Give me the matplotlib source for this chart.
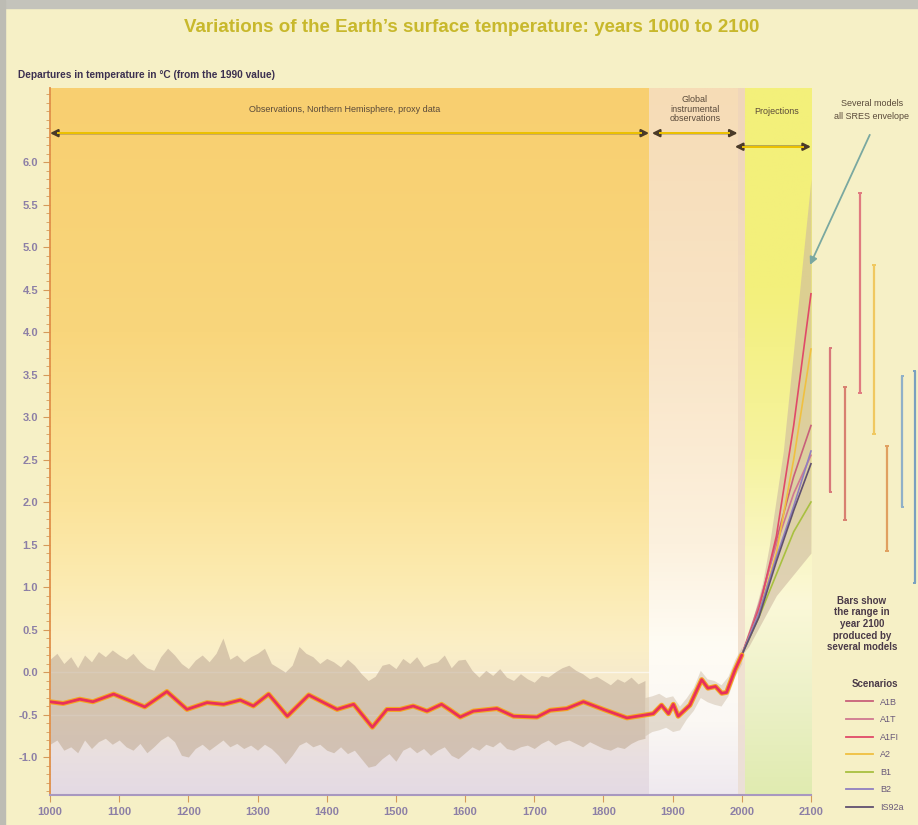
"""Earth's surface temperature 1000-2100: proxy record, instruments and SRES projections."""

import numpy as np
import matplotlib

matplotlib.use("Agg")
import matplotlib.pyplot as plt
from matplotlib.colors import LinearSegmentedColormap
from matplotlib.patches import Rectangle
from matplotlib.lines import Line2D

plt.rcParams["font.family"] = ["Liberation Sans", "DejaVu Sans"]

# ---- data ----------------------------------------------------------------
proxy_years = list(range(1000, 1861, 10))
proxy_upper = [
    0.15, 0.22, 0.10, 0.18, 0.05, 0.20, 0.12, 0.24, 0.18, 0.26,
    0.20, 0.15, 0.22, 0.12, 0.05, 0.02, 0.18, 0.28, 0.20, 0.10,
    0.04, 0.14, 0.20, 0.12, 0.22, 0.40, 0.15, 0.20, 0.12, 0.18,
    0.22, 0.28, 0.10, 0.05, 0.00, 0.08, 0.30, 0.22, 0.18, 0.10,
    0.16, 0.12, 0.06, 0.15, 0.08, -0.02, -0.10, -0.05, 0.08, 0.10,
    0.04, 0.16, 0.10, 0.18, 0.06, 0.10, 0.12, 0.20, 0.05, 0.14,
    0.15, 0.02, -0.06, 0.02, -0.04, 0.04, -0.06, -0.10, -0.02, -0.08,
    -0.12, -0.04, -0.06, 0.00, 0.05, 0.08, 0.02, -0.02, -0.08, -0.05,
    -0.10, -0.15, -0.08, -0.12, -0.06, -0.14, -0.10,
]
proxy_lower = [
    -0.85, -0.80, -0.92, -0.88, -0.95, -0.80, -0.90, -0.82, -0.78, -0.85,
    -0.80, -0.88, -0.92, -0.84, -0.95, -0.88, -0.80, -0.75, -0.82, -0.98,
    -1.00, -0.90, -0.85, -0.92, -0.86, -0.80, -0.88, -0.84, -0.90, -0.86,
    -0.92, -0.85, -0.90, -0.98, -1.08, -0.98, -0.86, -0.82, -0.88, -0.85,
    -0.92, -0.95, -0.88, -0.96, -0.92, -1.02, -1.12, -1.10, -1.02, -0.96,
    -1.05, -0.92, -0.88, -0.95, -0.90, -0.98, -0.92, -0.88, -0.98, -1.02,
    -0.95, -0.88, -0.92, -0.85, -0.88, -0.82, -0.90, -0.92, -0.88, -0.86,
    -0.90, -0.84, -0.80, -0.86, -0.82, -0.80, -0.84, -0.88, -0.82, -0.86,
    -0.90, -0.92, -0.88, -0.90, -0.84, -0.80, -0.78,
]

instr_years = list(range(1860, 2001, 10))
instr_upper = [-0.30, -0.28, -0.25, -0.30, -0.28, -0.40, -0.30, -0.18,
               0.02, -0.08, -0.10, -0.15, -0.05, 0.15, 0.30]
instr_lower = [-0.75, -0.70, -0.68, -0.65, -0.70, -0.68, -0.55, -0.45,
               -0.30, -0.35, -0.38, -0.40, -0.28, -0.05, 0.10]

smooth_years = [1000, 1019, 1043, 1062, 1092, 1137, 1169, 1198, 1227, 1251,
                1275, 1294, 1316, 1343, 1374, 1415, 1439, 1466, 1487, 1506,
                1525, 1545, 1566, 1579, 1593, 1612, 1646, 1670, 1704, 1723,
                1747, 1771, 1800, 1834, 1872, 1884, 1894, 1901, 1908, 1925,
                1942, 1951, 1962, 1971, 1978, 1990, 2000]
smooth_temp = [-0.35, -0.37, -0.32, -0.35, -0.26, -0.41, -0.23, -0.44, -0.36, -0.38,
               -0.33, -0.40, -0.26, -0.52, -0.27, -0.44, -0.38, -0.65, -0.44, -0.44,
               -0.40, -0.46, -0.38, -0.45, -0.53, -0.46, -0.43, -0.52, -0.53, -0.45,
               -0.43, -0.35, -0.44, -0.54, -0.49, -0.39, -0.49, -0.38, -0.52, -0.39,
               -0.09, -0.19, -0.17, -0.25, -0.24, 0.02, 0.20]

env_years = list(range(2000, 2101, 10))
env_upper = [0.20, 0.45, 0.75, 1.05, 1.50, 2.05, 2.60, 3.40, 4.20, 5.00, 5.80]
env_lower = [0.20, 0.30, 0.45, 0.60, 0.75, 0.90, 1.00, 1.10, 1.20, 1.30, 1.40]

scen_years = [2000, 2025, 2050, 2075, 2100]
scenarios = ["A1B", "A1T", "A1FI", "A2", "B1", "B2", "IS92a"]
scen_A1B = [0.20, 0.75, 1.55, 2.30, 2.90]
scen_A1T = [0.20, 0.80, 1.50, 2.10, 2.55]
scen_A1FI = [0.20, 0.75, 1.60, 2.90, 4.45]
scen_A2 = [0.20, 0.70, 1.40, 2.50, 3.80]
scen_B1 = [0.20, 0.65, 1.15, 1.65, 2.00]
scen_B2 = [0.20, 0.70, 1.35, 1.95, 2.60]
scen_IS92a = [0.20, 0.65, 1.30, 1.90, 2.45]
scen_values = [scen_A1B, scen_A1T, scen_A1FI, scen_A2, scen_B1, scen_B2, scen_IS92a]
scen_colors = ["#c8607a", "#d07890", "#e04a68", "#f0c040", "#a8c040", "#9080c0", "#605070"]

# range bars for year 2100 (low, high)
bar_low = [2.12, 1.79, 3.28, 2.80, 1.42, 1.94, 1.05]
bar_high = [3.81, 3.35, 5.63, 4.79, 2.66, 3.48, 3.54]
bar_colors = ["#d8787a", "#d88070", "#e07a80", "#f0c860", "#e0a060", "#90b0c8", "#7aa0c0"]
bar_x = [2128, 2149, 2171, 2191, 2210, 2232, 2250]

YMIN, YMAX = -1.447, 6.871
XMIN, XMAX = 1000, 2254.7


def px(x, y):
    return x / 918, 1 - y / 825


def vgrad(ax, x0, x1, stops):
    pos = [(y - YMIN) / (YMAX - YMIN) for y, _ in stops]
    cmap = LinearSegmentedColormap.from_list("g", list(zip(pos, [c for _, c in stops])))
    grad = np.linspace(0, 1, 256).reshape(-1, 1)
    ax.imshow(grad, cmap=cmap, extent=(x0, x1, YMIN, YMAX), origin="lower",
              aspect="auto", zorder=0, interpolation="bilinear")


fig = plt.figure(figsize=(9.18, 8.25), dpi=100, facecolor="#f6f0c6")
fig.patches.append(Rectangle((0, 1 - 8 / 825), 1, 8 / 825, transform=fig.transFigure,
                             color="#c4c3bb", zorder=-1))
fig.patches.append(Rectangle((0, 0), 5 / 918, 1, transform=fig.transFigure,
                             color="#bdbcb4", zorder=-1))

ax = fig.add_axes([50 / 918, 30 / 825, 868 / 918, 707 / 825])
ax.patch.set_alpha(0)

# background bands
vgrad(ax, 1000, 1866, [(YMIN, "#e4dae4"), (-1.0, "#e9dfe0"), (-0.5, "#f1e5d4"),
                       (0.3, "#fbefc6"), (1.0, "#fcebb2"), (2.0, "#fbe39a"),
                       (4.0, "#f9d67c"), (YMAX, "#f8cf70")])
vgrad(ax, 1866, 1994, [(YMIN, "#efe9ef"), (-0.6, "#fbf8f4"), (0.3, "#fffcf4"),
                       (1.5, "#fcf1de"), (4.0, "#f9e4c6"), (YMAX, "#f6dcb6")])
vgrad(ax, 1994, 2004, [(YMIN, "#ebdfd8"), (1.0, "#f4e2cc"), (YMAX, "#f0d6ba")])
vgrad(ax, 2004, 2100, [(YMIN, "#e0ebb0"), (-0.3, "#ecf1c8"), (0.8, "#fbf8d8"),
                       (2.5, "#f6f3a0"), (4.5, "#f3f07c"), (YMAX, "#f3f07a")])

# faint reference lines
for yv in (0.0, -0.5):
    ax.plot([1000, 1866], [yv, yv], color="white", lw=1.0, alpha=0.6, zorder=1)

# proxy and instrumental spread
ax.fill_between(proxy_years, proxy_lower, proxy_upper,
                color="#c2ad98", alpha=0.6, lw=0, zorder=2)
ax.fill_between(instr_years, instr_lower, instr_upper,
                color="#c9b8a2", alpha=0.45, lw=0, zorder=2)

# smoothed record
ax.plot(smooth_years, smooth_temp, color="#f5a623", lw=3.6, zorder=4,
        solid_joinstyle="round", solid_capstyle="round")
ax.plot(smooth_years, smooth_temp, color="#e8305a", lw=2.0, zorder=5,
        solid_joinstyle="round", solid_capstyle="round")

# projections envelope and scenarios
ax.fill_between(env_years, env_lower, env_upper, color="#cdb9a0", alpha=0.6,
                lw=0, zorder=2)
for name, vals, c in zip(scenarios, scen_values, scen_colors):
    ax.plot(scen_years, vals, color=c, lw=1.2, zorder=3, label=name)

# range bars in 2100
for x, lo, hi, c in zip(bar_x, bar_low, bar_high, bar_colors):
    ax.vlines(x, lo, hi, color=c, lw=1.6, zorder=3, clip_on=False)
    ax.hlines([lo, hi], x - 2.5, x + 2.5, color=c, lw=1.4, zorder=3, clip_on=False)

# period arrows
arrow_kw = dict(arrowstyle="<|-|>", color="#4a3a28", lw=1.6,
                mutation_scale=11, shrinkA=0, shrinkB=0)
for (x0, x1, y) in [(1000, 1866, 6.34), (1870, 1994, 6.34), (1990, 2100, 6.18)]:
    ax.annotate("", xy=(x1, y), xytext=(x0, y), arrowprops=arrow_kw, zorder=6)
    ax.plot([x0 + 12, x1 - 12], [y, y], color="#f0c400", lw=1.4, zorder=7)

ax.annotate("", xy=(2098.6, 4.79), xytext=(2185, 6.32), zorder=6,
            arrowprops=dict(arrowstyle="-|>", color="#7aa8a0", lw=1.3,
                            mutation_scale=11, shrinkA=0, shrinkB=0))

# axes styling
ax.set_xlim(XMIN, XMAX)
ax.set_ylim(YMIN, YMAX)
for s in ("top", "right"):
    ax.spines[s].set_visible(False)
ax.spines["left"].set_color("#e0904a")
ax.spines["left"].set_linewidth(1.3)
ax.spines["bottom"].set_color("#a898c0")
ax.spines["bottom"].set_linewidth(1.5)
ax.spines["bottom"].set_bounds(1000, 2100)

ax.set_xticks(range(1000, 2101, 100))
ax.set_yticks(np.arange(-1.0, 6.01, 0.5))
ax.set_yticks(np.arange(-1.4, 6.81, 0.1), minor=True)
ax.set_yticklabels([f"{v:.1f}" for v in np.arange(-1.0, 6.01, 0.5)])
ax.tick_params(axis="both", which="major", direction="out", length=5,
               color="#d49a5a", labelsize=8, labelcolor="#8c7fa6")
ax.tick_params(axis="y", which="minor", direction="out", length=3, color="#d49a5a")
for lab in ax.get_xticklabels() + ax.get_yticklabels():
    lab.set_fontweight("bold")

# texts
fig.text(*px(472, 27), "Variations of the Earth\u2019s surface temperature: years 1000 to 2100",
         ha="center", va="center", fontsize=13.5, fontweight="bold", color="#c8b82c")
fig.text(*px(18, 75), "Departures in temperature in \u00b0C (from the 1990 value)",
         ha="left", va="center", fontsize=7.3, fontweight="bold", color="#3c3050")
fig.text(*px(345, 110), "Observations, Northern Hemisphere, proxy data",
         ha="center", va="center", fontsize=6.5, color="#5a4a3a")
fig.text(*px(695, 109), "Global\ninstrumental\nobservations",
         ha="center", va="center", fontsize=6.5, color="#5a4a3a", linespacing=1.05)
fig.text(*px(777, 111), "Projections",
         ha="center", va="center", fontsize=6.5, color="#5a4a3a")
fig.text(*px(872, 110), "Several models\nall SRES envelope",
         ha="center", va="center", fontsize=6.5, color="#5a4a3a", linespacing=1.5)
fig.text(*px(862, 624), "Bars show\nthe range in\nyear 2100\nproduced by\nseveral models",
         ha="center", va="center", fontsize=7, fontweight="bold", color="#4a3a48",
         linespacing=1.2)

handles = [Line2D([], [], color=c, lw=1.3) for c in scen_colors]
leg = ax.legend(handles, scenarios, loc="upper left", bbox_to_anchor=px(846, 679),
                bbox_transform=fig.transFigure, frameon=False, fontsize=6.5,
                title="Scenarios", title_fontproperties={"weight": "bold", "size": 7},
                handlelength=3, handletextpad=0.8, labelspacing=0.95,
                borderpad=0, borderaxespad=0)
for t in leg.get_texts():
    t.set_color("#6a5a7a")
leg.get_title().set_color("#4a3a48")

fig.savefig("out.png", dpi=100, facecolor=fig.get_facecolor())
